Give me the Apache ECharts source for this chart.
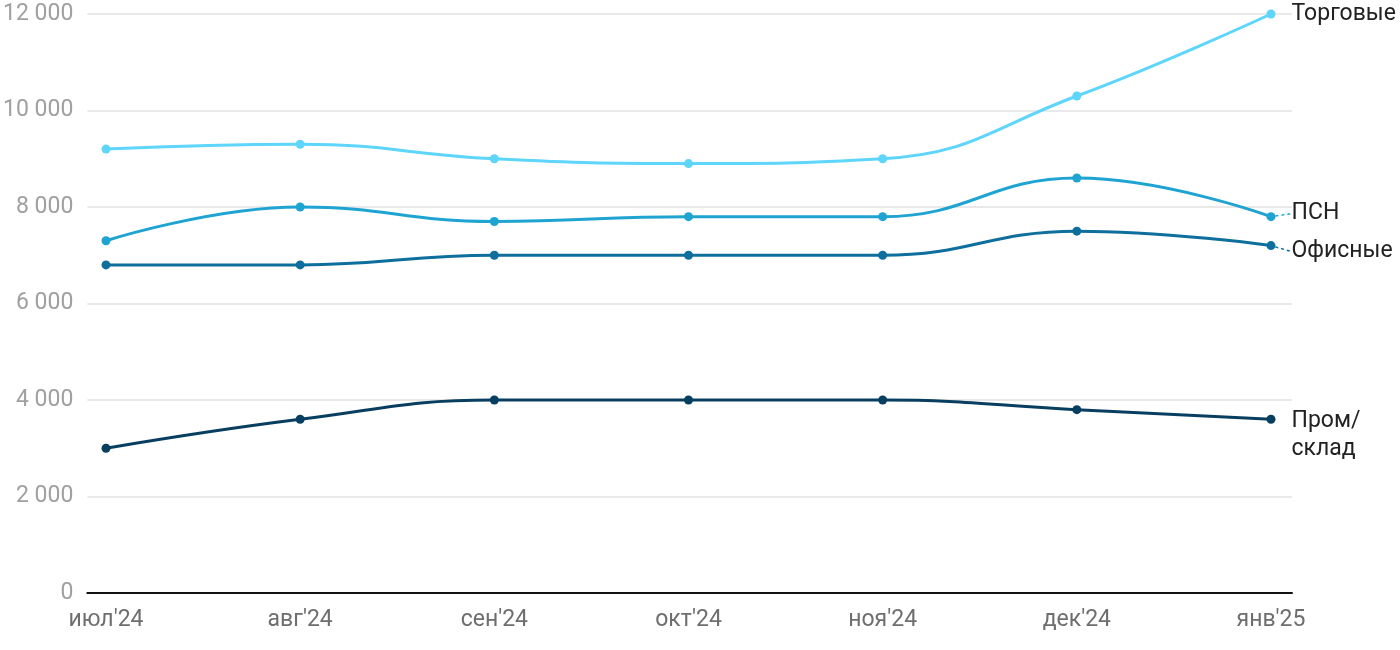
<!DOCTYPE html>
<html><head><meta charset="utf-8">
<script src="https://cdn.jsdelivr.net/npm/echarts@6/dist/echarts.min.js"></script>
<style>html,body{margin:0;padding:0;background:#fff}#c{width:1400px;height:650px}</style>
</head><body><div id="c"></div>
<script>
const categories = ["июл'24","авг'24","сен'24","окт'24","ноя'24","дек'24","янв'25"];
const trade = [9200, 9300, 9000, 8900, 9000, 10300, 12000];
const psn = [7300, 8000, 7700, 7800, 7800, 8600, 7800];
const office = [6800, 6800, 7000, 7000, 7000, 7500, 7200];
const industrial = [3000, 3600, 4000, 4000, 4000, 3800, 3600];
const seriesNames = ["Торговые", "ПСН", "Офисные", "Пром/\nсклад"];
const colors = ["#5ed5fb", "#1fa4d2", "#0e6f9d", "#083f61"];
const labelDy = [0, -3, 6, 16];
const yTicks = {min: 0, max: 12000, interval: 2000};

const chart = echarts.init(document.getElementById('c'));
const font = 'Roboto, "Noto Sans", sans-serif';
function mk(name, data, i) {
  const d = data.map((v, k) => k === data.length - 1 ? {
    value: v,
    label: {show: true, formatter: name, position: 'right', distance: 16, color: '#222', fontSize: 23, fontFamily: font, lineHeight: 28, align: 'left'},
    labelLine: {show: labelDy[i] !== 0 && i < 3, lineStyle: {color: colors[i], width: 1.5, type: [3, 3]}}
  } : v);
  return {
    type: 'line', name: name, data: d, xAxisIndex: 1, yAxisIndex: 1,
    smooth: 0.45, symbol: 'circle', symbolSize: 9,
    lineStyle: {width: 3, color: colors[i]}, itemStyle: {color: colors[i]},
    labelLayout: {dy: labelDy[i]},
    z: 10 - i
  };
}
chart.setOption({
  animation: false,
  grid: [
    {left: 86, right: 108, top: 14, bottom: 57},
    {left: 106, right: 129, top: 14, bottom: 57}
  ],
  xAxis: [
    {gridIndex: 0, type: 'value', min: 0, max: 1, axisLabel: {show: false}, axisTick: {show: false}, splitLine: {show: false},
     axisLine: {show: true, lineStyle: {color: '#111', width: 2}}},
    {gridIndex: 1, type: 'category', data: categories, boundaryGap: false, axisLine: {show: false}, axisTick: {show: false},
     axisLabel: {color: '#6e6e6e', fontSize: 23, fontFamily: font, margin: 16, interval: 0}}
  ],
  yAxis: [
    {gridIndex: 0, type: 'value', min: yTicks.min, max: yTicks.max, interval: yTicks.interval,
     axisLabel: {color: '#a0a0a0', fontSize: 23, fontFamily: font, margin: 14, formatter: v => String(v).replace(/\B(?=(\d{3})+(?!\d))/g, ' ')},
     axisLine: {show: false}, axisTick: {show: false}, splitLine: {lineStyle: {color: '#e2e2e2', width: 1.5}}},
    {gridIndex: 1, type: 'value', min: yTicks.min, max: yTicks.max, interval: yTicks.interval, show: false}
  ],
  series: [mk(seriesNames[0], trade, 0), mk(seriesNames[1], psn, 1), mk(seriesNames[2], office, 2), mk(seriesNames[3], industrial, 3)]
});
</script></body></html>
